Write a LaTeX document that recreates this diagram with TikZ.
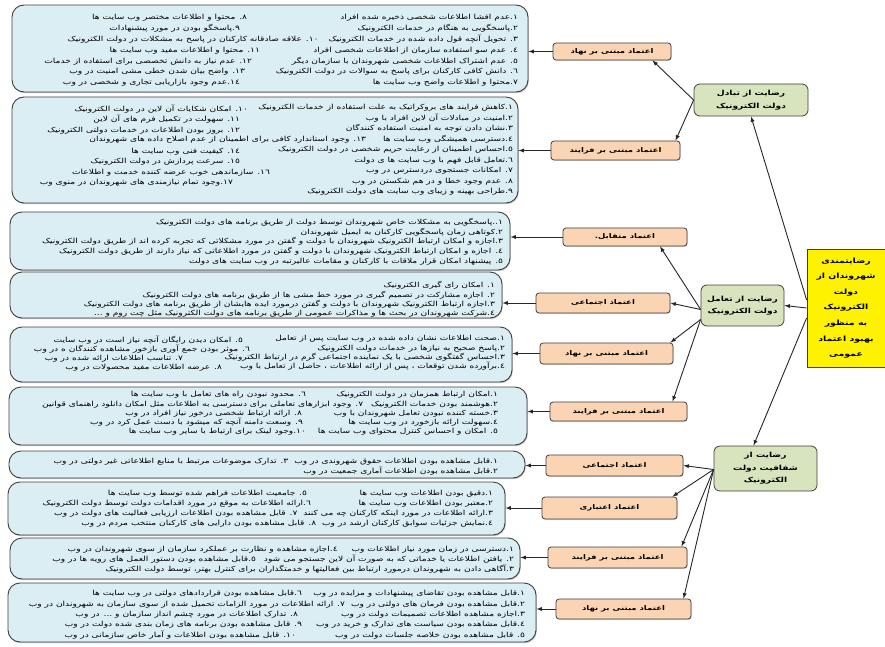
\documentclass[tikz,border=0pt]{standalone}
\usepackage{fontspec}
\usepackage{tikz}
\usetikzlibrary{shadows}
\TeXXeTstate=1
\newfontfamily\fafont[Script=Arabic, FakeStretch=1.3]{DejaVu Sans}
% one right-to-left line, optional gap on its right
\newcommand{\fa}[2][0pt]{\beginR\hspace*{#1}#2\endR}
\newcommand{\itemfont}[1]{\fafont\fontsize{7}{#1}\selectfont}
\definecolor{boxblue}{RGB}{219,238,244}
\definecolor{boxline}{RGB}{64,64,64}
\definecolor{trustpeach}{RGB}{251,212,180}
\definecolor{satgreen}{RGB}{215,228,189}
\tikzstyle{itembox}=[draw=boxline, line width=0.9pt, fill=boxblue, rounded corners=12pt, inner sep=0,
                     drop shadow={shadow xshift=0.8pt, shadow yshift=-1.2pt, opacity=0.45}]
\tikzstyle{itemcol}=[inner sep=0, outer sep=0, align=right, anchor=north east]
\tikzstyle{trust}=[draw=boxline, line width=0.8pt, fill=trustpeach, rounded corners=3pt, inner sep=0,
                   font=\fafont\bfseries\fontsize{6.5}{8}\selectfont,
                   drop shadow={shadow xshift=0.6pt, shadow yshift=-0.8pt, opacity=0.35}]
\tikzstyle{satis}=[draw=boxline, line width=0.8pt, fill=satgreen, rounded corners=6pt, inner sep=0, align=center,
                   font=\fafont\bfseries\fontsize{7}{12.5}\selectfont]
\tikzstyle{goal}=[draw=boxline, line width=0.8pt, fill=yellow, inner sep=0, align=center,
                  font=\fafont\bfseries\fontsize{7.2}{15.6}\selectfont]
\tikzstyle{link}=[draw=black!85, line width=0.9pt, -latex]

\begin{document}
\begin{tikzpicture}[x=1pt, y=-1pt]
    \useasboundingbox (0,0) rectangle (885,647);

    % goal and the three kinds of satisfaction
    \node[goal, minimum width=78pt, minimum height=118pt] (goal) at (846,308)
        {\fa{رضایتمندی}\\\fa{شهروندان از}\\\fa{دولت}\\\fa{الکترونیک}\\\fa{به منظور}\\\fa{بهبود اعتماد}\\\fa{عمومی}};
    \node[satis, minimum width=114pt, minimum height=32pt] (exchange) at (751,100)
        {\fa{رضایت از تبادل}\\\fa{دولت الکترونیک}};
    \node[satis, minimum width=83pt, minimum height=41pt] (interact) at (742.5,305.5)
        {\fa{رضایت از تعامل}\\\fa{دولت الکترونیک}};
    \node[satis, minimum width=103pt, minimum height=45pt] (clear) at (765.5,468.5)
        {\fa{رضایت از}\\\fa{شفافیت دولت}\\\fa{الکترونیک}};

    % kinds of trust
    \node[trust, minimum width=118pt, minimum height=17pt] (inst1) at (612,51.5) {\fa{اعتماد مبتنی بر نهاد}};
    \node[trust, minimum width=129pt, minimum height=19pt] (proc1) at (615.5,150.5) {\fa{اعتماد مبتنی بر فرایند}};
    \node[trust, minimum width=124pt, minimum height=18pt] (mutual) at (625,237) {\fa{اعتماد متقابل.}};
    \node[trust, minimum width=134pt, minimum height=20pt] (social1) at (603,303) {\fa{اعتماد اجتماعی}};
    \node[trust, minimum width=133pt, minimum height=21pt] (inst2) at (606.5,353.5) {\fa{اعتماد مبتنی بر نهاد}};
    \node[trust, minimum width=137pt, minimum height=19pt] (proc2) at (618.5,411.5) {\fa{اعتماد مبتنی بر فرایند}};
    \node[trust, minimum width=137pt, minimum height=21pt] (social2) at (614.5,465.5) {\fa{اعتماد اجتماعی}};
    \node[trust, minimum width=135pt, minimum height=22pt] (credit) at (609.5,508) {\fa{اعتماد اعتباری}};
    \node[trust, minimum width=139pt, minimum height=21pt] (proc3) at (617.5,557.5) {\fa{اعتماد مبتنی بر فرایند}};
    \node[trust, minimum width=135pt, minimum height=20pt] (inst3) at (623.5,609) {\fa{اعتماد مبتنی بر نهاد}};

    % item boxes
    \node[itembox, minimum width=516pt, minimum height=87pt] (box1) at (270,48.5) {};
    \node[itembox, minimum width=506pt, minimum height=106pt] (box2) at (265,150) {};
    \node[itembox, minimum width=500pt, minimum height=58pt] (box3) at (260,241) {};
    \node[itembox, minimum width=492pt, minimum height=46pt] (box4) at (256,295) {};
    \node[itembox, minimum width=502pt, minimum height=55pt] (box5) at (261,354.5) {};
    \node[itembox, minimum width=518pt, minimum height=58pt] (box6) at (268,416) {};
    \node[itembox, minimum width=516pt, minimum height=27pt] (box7) at (267,464.5) {};
    \node[itembox, minimum width=497pt, minimum height=53pt] (box8) at (256.5,508.5) {};
    \node[itembox, minimum width=510pt, minimum height=41pt] (box9) at (265,558.5) {};
    \node[itembox, minimum width=528pt, minimum height=59pt] (box10) at (272,612.5) {};

    \node[itemcol, font=\itemfont{10.8}] (box1r) at (518,14.5) {%
        \fa{١.عدم افشا اطلاعات شخصی ذخیره شده افراد}\\
        \fa{٢.پاسخگویی به هنگام در خدمات الکترونیک}\\
        \fa{٣. تحویل آنچه قول داده شده  در خدمات الکترونیک\hspace{10pt}١٠. علاقه صادقانه کارکنان در پاسخ به مشکلات در دولت الکترونیک}\\
        \fa{٤. عدم سو استفاده سازمان از اطلاعات شخصی افراد}\\
        \fa{٥. عدم اشتراک اطلاعات شخصی شهروندان با سازمان دیگر}\\
        \fa{٦. دانش کافی کارکنان برای پاسخ به سوالات در دولت الکترونیک}\\
        \fa{٧.محتوا و اطلاعات واضح وب سایت ها}};
    \node[itemcol, font=\itemfont{10.8}] (box1l) at (300,14.5) {%
        \fa[53pt]{٨. محتوا و اطلاعات مختصر وب سایت ها}\\
        \fa[60pt]{٩.پاسخگو بودن در مورد پیشنهادات}\\
        \\
        \fa[40pt]{١١. محتوا و اطلاعات مفید وب سایت ها}\\
        \fa[48pt]{١٢. عدم نیاز به دانش تخصصی برای استفاده از خدمات}\\
        \fa[55pt]{١٣. واضح بیان شدن خطی مشی امنیت در وب}\\
        \fa[60pt]{١٤.عدم وجود بازاریابی تجاری و شخصی در وب}};

    \node[itemcol, font=\itemfont{10.5}] (box2r) at (513,104.5) {%
        \fa{١.کاهش فرایند های بروکراتیک به علت استفاده از خدمات الکترونیک}\\
        \fa{٢.امنیت در مبادلات آن لاین افراد  با وب}\\
        \fa{٣.نشان دادن توجه به امنیت استفاده کنندگان}\\
        \fa{٤.دسترسی همیشگی وب سایت ها\hspace{17pt}١٣. وجود استاندارد کافی برای اطمینان از عدم اصلاح داده های شهروندان}\\
        \fa{٥.احساس اطمینان از رعایت حریم شخصی در دولت الکترونیک}\\
        \fa{٦.تعامل قابل فهم با وب سایت ها ی دولت}\\
        \fa{٧. امکانات جستجوی دردسترس در وب}\\
        \fa{٨. عدم وجود خطا و در هم شکستن  در وب}\\
        \fa{٩.طراحی بهینه و زیبای وب سایت های دولت الکترونیک}};
    \node[itemcol, font=\itemfont{10.5}] (box2l) at (272,104.5) {%
        \fa[24pt]{١٠. امکان شکایات آن لاین در دولت الکترونیک}\\
        \fa[32pt]{١١. سهولت در تکمیل فرم های آن لاین}\\
        \fa[32pt]{١٢. بروز بودن اطلاعات در خدمات دولتی الکترونیک}\\
        \\
        \fa[32pt]{١٤. کیفیت فنی وب سایت ها}\\
        \fa[32pt]{١٥. سرعت پردازش در دولت الکترونیک}\\
        \fa[2pt]{١٦. سازماندهی خوب عرضه کننده خدمت و اطلاعات}\\
        \fa[39pt]{١٧.وجود تمام نیازمندی های شهروندان در منوی وب}};

    \node[itemcol, font=\itemfont{9.6}] (box3r) at (503,218.5) {%
        \fa{١..پاسخگویی به مشکلات خاص شهروندان  توسط دولت از طریق برنامه های دولت الکترونیک}\\
        \fa{٢.کوتاهی زمان پاسخگویی کارکنان به ایمیل شهروندان}\\
        \fa{٣.اجازه و امکان ارتباط الکترونیک شهروندان با دولت و گفتن در مورد مشکلاتی که تجربه کرده اند از طریق دولت الکترونیک}\\
        \fa{٤. اجازه و امکان ارتباط الکترونیک شهروندان با دولت و گفتن در مورد اطلاعاتی که نیاز دارند از طریق دولت الکترونیک}\\
        \fa{٥. پیشنهاد امکان قرار ملاقات با کارکنان و مقامات عالیرتبه در وب سایت های دولت}};

    \node[itemcol, font=\itemfont{9.3}] (box4r) at (495,281.5) {%
        \fa{١. امکان رای گیری الکترونیک}\\
        \fa{٢. اجازه مشارکت در تصمیم گیری در مورد خط مشی ها از طریق برنامه های دولت الکترونیک}\\
        \fa{٣.اجازه ارتباط الکترونیک شهروندان با دولت و گفتن درمورد ایده هایشان از طریق برنامه های دولت الکترونیک}\\
        \fa{٤.شرکت شهروندان در بحث ها و مذاکرات عمومی از طریق برنامه های دولت الکترونیک مثل چت روم و ...}};

    \node[itemcol, font=\itemfont{9.3}] (box5r) at (505,335.5) {%
        \fa{١.صحت اطلاعات نشان داده شده در وب سایت پس از تعامل}\\
        \fa{٢.پاسخ صحیح به نیازها در خدمات دولت  الکترونیک}\\
        \fa{٣.احساس گفتگوی شخصی با یک نماینده اجتماعی گرم در ارتباط الکترونیک}\\
        \fa{٤.برآورده شدن توقعات ، پس از ارائه اطلاعات ، حاصل از تعامل با وب}};
    \node[itemcol, font=\itemfont{9.3}] (box5l) at (250,335.5) {%
        \fa[7pt]{٥. امکان دیدن رایگان آنچه نیاز است در وب سایت}\\
        \fa{٦. موثر بودن جمع آوری بازخور مشاهده کنندگان ه در وب}\\
        \fa[67pt]{٧. تناسب اطلاعات ارائه شده در وب}\\
        \fa[28pt]{٨. عرضه اطلاعات مفید محصولات در وب}};

    \node[itemcol, font=\itemfont{9.2}] (box6r) at (498,391.5) {%
        \fa{١.امکان ارتباط همزمان در دولت الکترونیک}\\
        \fa{٢.هوشمند بودن خدمات  الکترونیک\hspace{8pt}٧. وجود ابزارهای تعاملی برای دسترسی به اطلاعات مثل امکان دانلود راهنمای قوانین}\\
        \fa{٣.خسته کننده نبودن تعامل شهروندان با وب}\\
        \fa{٤.سهولت ارائه بازخورد در وب سایت ها}\\
        \fa{٥. امکان و احساس کنترل محتوای وب سایت ها}};
    \node[itemcol, font=\itemfont{9.2}] (box6l) at (306,391.5) {%
        \fa{٦. محدود نبودن راه های تعامل با وب سایت ها}\\
        \\
        \fa[4pt]{٨. ارائه ارتباط شخصی درخور نیاز افراد در وب}\\
        \fa[3pt]{٩. وسعت دامنه آنچه که میشود با دست عمل کرد در وب}\\
        \fa{١٠.وجود لینک برای ارتباط با سایر وب سایت ها}};

    \node[itemcol, font=\itemfont{10}] (box7r) at (498,458.5) {%
        \fa{١.قابل مشاهده بودن اطلاعات حقوق شهروندی در وب\hspace{6pt}٣. تدارک موضوعات مرتبط با منابع اطلاعاتی غیر دولتی در وب}\\
        \fa{٢.قابل مشاهده بودن اطلاعات آماری جمعیت  در وب}};

    \node[itemcol, font=\itemfont{10}] (box8r) at (493,490.5) {%
        \fa{١.دقیق بودن اطلاعات وب سایت ها}\\
        \fa{٢.معتبر بودن اطلاعات وب  سایت ها}\\
        \fa{٣.ارائه اطلاعات در مورد اینکه کارکنان چه می کنند\hspace{6pt}٧. قابل مشاهده بودن اطلاعات ارزیابی فعالیت های دولت در وب}\\
        \fa{٤.نمایش جزئیات سوابق کارکنان ارشد در وب\hspace{6pt}٨. قابل مشاهده  بودن دارایی های کارکنان منتخب مردم  در وب}};
    \node[itemcol, font=\itemfont{10}] (box8l) at (311,490.5) {%
        \fa[4pt]{٥. جامعیت اطلاعات فراهم شده توسط وب سایت ها}\\
        \fa{٦.ارائه  اطلاعات به موقع در مورد اقدامات دولت توسط دولت الکترونیک}};

    \node[itemcol, font=\itemfont{10}] (box9r) at (514,546.5) {%
        \fa{١.دسترسی در زمان مورد نیاز اطلاعات وب\hspace{14pt}٤.اجازه مشاهده و نظارت بر عملکرد سازمان از سوی شهروندان  در وب}\\
        \fa{٢. یافتن اطلاعات یا خدماتی که به صورت آن لاین جستجو می شود\hspace{8pt}٥.قابل مشاهده بودن دستور العمل های رویه ها  در وب}\\
        \fa{٣.آگاهی دادن به شهروندان درمورد ارتباط بین فعالیتها و خدمتگذاران برای کنترل بهتر،  توسط دولت الکترونیک}};

    \node[itemcol, font=\itemfont{10.3}] (box10r) at (525,590.5) {%
        \fa{١.قابل مشاهده بودن تقاضای پیشنهادات و مزایده در وب}\\
        \fa{٢.قابل مشاهده بودن فرمان های دولتی در وب\hspace{6pt}٧. ارائه اطلاعات در مورد الزامات تحمیل شده از سوی سازمان به شهروندان در وب}\\
        \fa{٣.اجازه مشاهده اطلاعات  تصمیمات دولت در وب}\\
        \fa{٤.قابل مشاهده بودن سیاست های تدارک و خرید  در وب}\\
        \fa{٥. قابل مشاهده بودن خلاصه جلسات دولت در وب}};
    \node[itemcol, font=\itemfont{10.3}] (box10l) at (302,590.5) {%
        \fa{٦.قابل مشاهده بودن  قراردادهای دولتی در وب سایت ها}\\
        \\
        \fa[4pt]{٨. تدارک اطلاعات در مورد چشم انداز سازمان و ... در وب}\\
        \fa{٩. قابل مشاهده بودن  برنامه های زمان بندی شده دولت در وب}\\
        \fa[6pt]{١٠. قابل مشاهده بودن اطلاعات و آمار خاص سازمانی در وب}};

    % goal to satisfaction
    \draw[link] ([yshift=8pt]goal.west) -- (exchange.south);
    \draw[link] (goal.west) -- (interact.east);
    \draw[link] ([yshift=-10pt]goal.west) -- ([xshift=-12pt]clear.north);

    % satisfaction to trust
    \draw[link] (exchange.west) -- ([xshift=-19pt]inst1.south east);
    \draw[link] (exchange.west) -- ([xshift=60pt]proc1.north);
    \draw[link] ([yshift=-4pt]interact.west) -- ([xshift=35pt]mutual.south);
    \draw[link] ([yshift=-4pt]interact.west) -- (social1.east);
    \draw[link] ([yshift=-14pt]interact.west) -- ([xshift=-3pt]inst2.north east);
    \draw[link] ([yshift=-14pt]interact.west) -- ([xshift=54pt]proc2.north);
    \draw[link] ([yshift=-1pt]clear.west) -- (social2.east);
    \draw[link] ([yshift=-1pt]clear.west) -- ([xshift=-5pt]credit.north east);
    \draw[link] ([yshift=-1pt]clear.west) -- ([xshift=64pt]proc3.north);
    \draw[link] ([yshift=-1pt]clear.west) -- ([xshift=60pt]inst3.north);

    % trust to items
    \draw[link] (inst1.west) -- (inst1.west -| box1.east);
    \draw[link] (proc1.west) -- (proc1.west -| box2.east);
    \draw[link] (mutual.west) -- (mutual.west -| box3.east);
    \draw[link] (social1.west) -- (social1.west -| box4.east);
    \draw[link] (inst2.west) -- (inst2.west -| box5.east);
    \draw[link] (proc2.west) -- (proc2.west -| box6.east);
    \draw[link] (social2.west) -- (social2.west -| box7.east);
    \draw[link] (credit.west) -- (credit.west -| box8.east);
    \draw[link] (proc3.west) -- (proc3.west -| box9.east);
    \draw[link] (inst3.west) -- (inst3.west -| box10.east);
\end{tikzpicture}
\end{document}
